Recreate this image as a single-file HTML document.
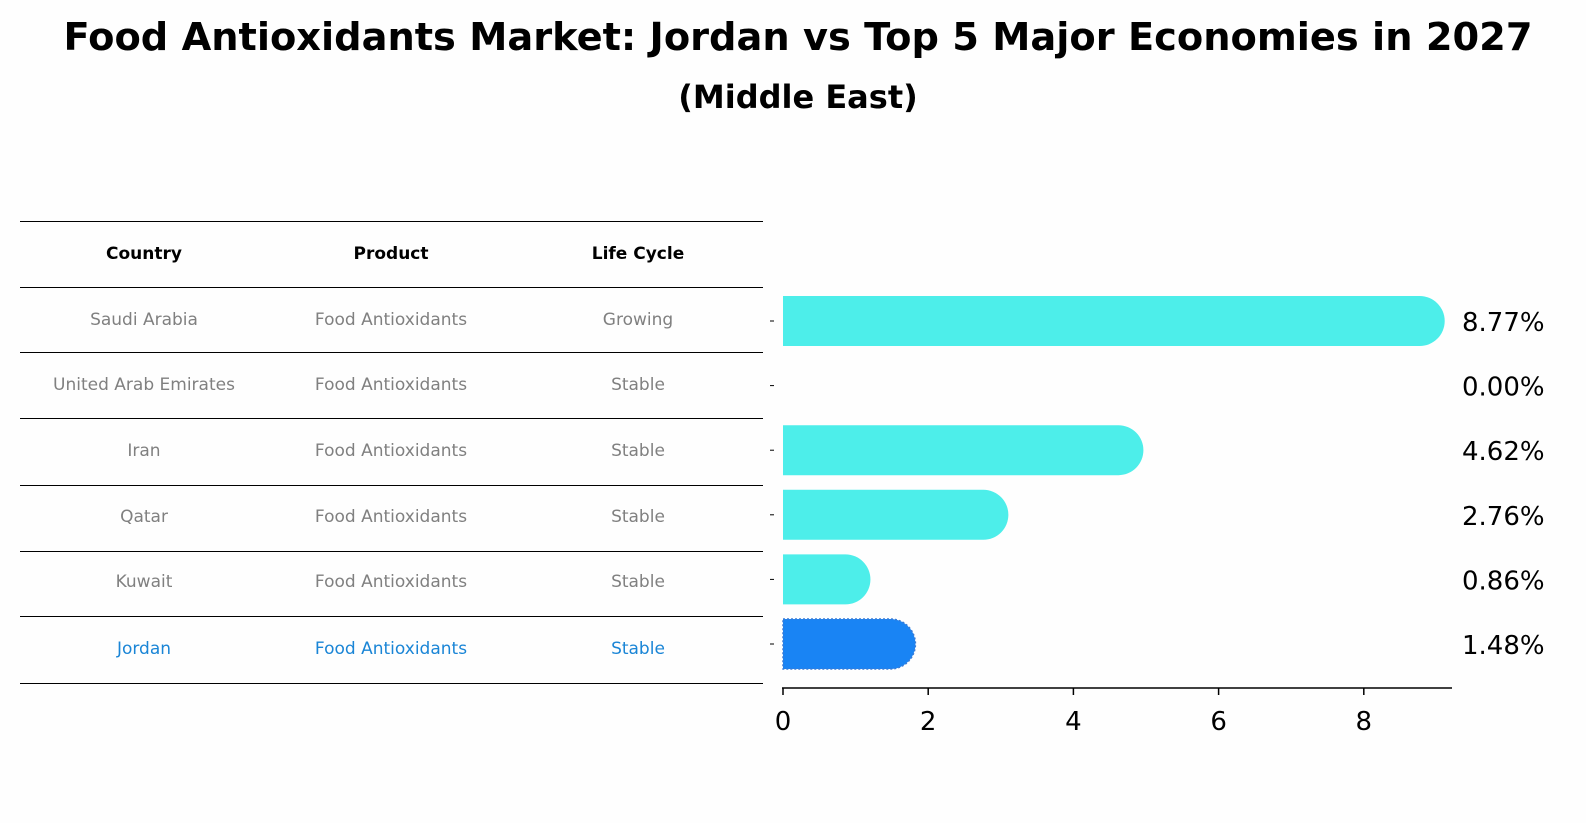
<!DOCTYPE html>
<html><head><meta charset="utf-8"><style>
body{margin:0;background:#fefefe;}
svg{display:block;font-family:"DejaVu Sans","Liberation Sans",sans-serif;}
</style></head><body>
<svg id="chart" width="1586" height="823" viewBox="0 0 1586 823">
<rect width="1586" height="823" fill="#fefefe"/>
<text x="798" y="50" text-anchor="middle" font-size="38" font-weight="bold" textLength="1469" lengthAdjust="spacingAndGlyphs">Food Antioxidants Market: Jordan vs Top 5 Major Economies in 2027</text>
<text x="798" y="108" text-anchor="middle" font-size="32" font-weight="bold">(Middle East)</text>
<g id="table"></g>
<g id="bars"></g>
<g id="axis"></g>
</svg>
<script>
const countries=["Saudi Arabia","United Arab Emirates","Iran","Qatar","Kuwait","Jordan"];
const products=["Food Antioxidants","Food Antioxidants","Food Antioxidants","Food Antioxidants","Food Antioxidants","Food Antioxidants"];
const lifeCycles=["Growing","Stable","Stable","Stable","Stable","Stable"];
const values=[8.77,0.00,4.62,2.76,0.86,1.48];
const labels=["8.77%","0.00%","4.62%","2.76%","0.86%","1.48%"];
const ticks=[0,2,4,6,8];
const NS="http://www.w3.org/2000/svg";
function mk(tag,attrs,parent,text){const e=document.createElementNS(NS,tag);for(const k in attrs)e.setAttribute(k,attrs[k]);if(text!==undefined)e.textContent=text;parent.appendChild(e);return e;}
const x=v=>783+v*72.6;
const rowY=i=>321+i*64.6;
const tbl=document.getElementById('table');
const lineYs=[221,287,352,418,485,551,616,683];
lineYs.forEach(y=>{const l=mk('line',{x1:20,x2:763,y1:y+0.5,y2:y+0.5,stroke:'#000','stroke-width':1},tbl);

});
const colX=[144,391,638];
["Country","Product","Life Cycle"].forEach((h,j)=>{const t=mk('text',{x:colX[j],y:259,'text-anchor':'middle','font-size':17,'font-weight':'bold'},tbl,h);

});
const cellY=[319,384,450,516,581,648];
countries.forEach((c,i)=>{const col=i===countries.length-1?'#1a85d6':'#808080';
[c,products[i],lifeCycles[i]].forEach((v,j)=>{const t=mk('text',{x:colX[j],y:cellY[i]+6,'text-anchor':'middle','font-size':17,fill:col},tbl,v);

});});
const bars=document.getElementById('bars');
const r=25;
values.forEach((v,i)=>{const cy=rowY(i);const isJ=i===values.length-1;const col=isJ?'#1984f4':'#4deeea';
if(v>0){const x0=x(0),x1=x(v);
const p=mk('path',{d:`M${x0},${cy-r} L${x1},${cy-r} A${r},${r} 0 0 1 ${x1},${cy+r} L${x0},${cy+r} Z`,fill:col,stroke:isJ?'#3a7bd5':'none','stroke-dasharray':isJ?'2,2':'none','stroke-width':1.5},bars);

}
const t=mk('text',{x:1462,y:cy+10,'font-size':26},bars,labels[i]);


const tk=mk('line',{x1:770,x2:774,y1:cy,y2:cy,stroke:'#000'},bars);

});
const ax=document.getElementById('axis');
const al=mk('line',{x1:782,x2:1452,y1:688,y2:688,stroke:'#000','stroke-width':1.5},ax);


ticks.forEach(t=>{const l=mk('line',{x1:x(t),x2:x(t),y1:688,y2:695,stroke:'#000','stroke-width':1.5},ax);


const tx=mk('text',{x:x(t),y:730,'text-anchor':'middle','font-size':26},ax,String(t));

});
</script>
</body></html>
